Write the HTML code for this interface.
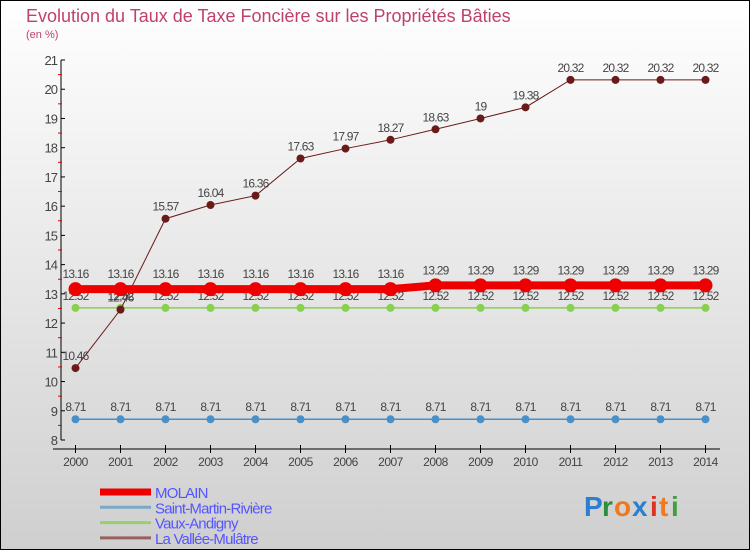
<!DOCTYPE html>
<html><head><meta charset="utf-8"><style>
body{margin:0;width:750px;height:550px;overflow:hidden;font-family:"Liberation Sans",sans-serif}
svg{display:block}
</style></head><body>
<svg id="chart" width="750" height="550" xmlns="http://www.w3.org/2000/svg">
<defs><linearGradient id="bg" x1="0" y1="0" x2="0" y2="1"><stop offset="0" stop-color="#ffffff"/><stop offset="1" stop-color="#cfcfcf"/></linearGradient></defs>
<rect x="0.5" y="0.5" width="749" height="549" fill="url(#bg)" stroke="#000" stroke-width="1"/>
<text x="26" y="22" font-size="18" fill="#c04070">Evolution du Taux de Taxe Foncière sur les Propriétés Bâties</text>
<text x="26" y="38" font-size="11" fill="#c04070">(en %)</text>
<g id="axes"></g><g id="series"></g><g id="legend"></g>
<g font-size="28" font-weight="bold">
<text x="584" y="516" fill="#2a7fd0">P</text><text x="602" y="516" fill="#2a9040">r</text><text x="614" y="516" fill="#f07820">o</text><text x="632" y="516" fill="#2a7fd0">x</text><text x="650" y="516" fill="#e03020">i</text><text x="659" y="516" fill="#f07820">t</text><text x="671" y="516" fill="#40a040">i</text>
</g>
</svg>
<script>
const years=[2000,2001,2002,2003,2004,2005,2006,2007,2008,2009,2010,2011,2012,2013,2014];
const molain=[13.16,13.16,13.16,13.16,13.16,13.16,13.16,13.16,13.29,13.29,13.29,13.29,13.29,13.29,13.29];
const saintMartin=[8.71,8.71,8.71,8.71,8.71,8.71,8.71,8.71,8.71,8.71,8.71,8.71,8.71,8.71,8.71];
const vaux=[12.52,12.52,12.52,12.52,12.52,12.52,12.52,12.52,12.52,12.52,12.52,12.52,12.52,12.52,12.52];
const vallee=[10.46,12.46,15.57,16.04,16.36,17.63,17.97,18.27,18.63,19,19.38,20.32,20.32,20.32,20.32];
const yTicks=[8,9,10,11,12,13,14,15,16,17,18,19,20,21];
const seriesNames=["MOLAIN","Saint-Martin-Rivière","Vaux-Andigny","La Vallée-Mulâtre"];
const NS="http://www.w3.org/2000/svg";
const x=i=>75.5+i*(705.5-75.5)/(years.length-1);
const y=v=>440-(v-8)*(440-60)/13;
function el(tag,attrs,parent,txt){const e=document.createElementNS(NS,tag);for(const k in attrs)e.setAttribute(k,attrs[k]);if(txt!==undefined)e.textContent=txt;parent.appendChild(e);return e;}
const ax=document.getElementById('axes');
let a=el('line',{x1:61,y1:60,x2:61,y2:440,stroke:'#000','stroke-width':1},ax);


a=el('line',{x1:53,y1:449,x2:720,y2:449,stroke:'#000','stroke-width':1},ax);


yTicks.forEach((t,i)=>{
 el('line',{x1:61,y1:y(t),x2:65,y2:y(t),stroke:'#000'},ax);
 const lb=el('text',{x:57,y:y(t)+5,'text-anchor':'end','font-size':13,fill:'#444','letter-spacing':'-1'},ax,String(t));
 
 
 if(i<yTicks.length-1) el('line',{x1:58,y1:y(t+0.5),x2:62,y2:y(t+0.5),stroke:'#e00000'},ax);
});
years.forEach((yr,i)=>{
 el('line',{x1:x(i),y1:445,x2:x(i),y2:453,stroke:'#000'},ax);
 const lb=el('text',{x:x(i),y:466,'text-anchor':'middle','font-size':12,fill:'#444','letter-spacing':'-0.5'},ax,String(yr));
 
 
});
const sg=document.getElementById('series');
function series(vals,color,w,r,name,dy){
 const g=el('g',{},sg);
 
 
 el('polyline',{points:vals.map((v,i)=>x(i)+','+y(v)).join(' '),fill:'none',stroke:color,'stroke-width':w},g);
 vals.forEach((v,i)=>{
  const c=el('circle',{cx:x(i),cy:y(v),r:r,fill:color},g);
  
  
  const t=el('text',{x:x(i),y:y(v)+dy,'text-anchor':'middle','font-size':12,fill:'#444','letter-spacing':'-0.8'},g,String(v));
  
  
 });
}
series(saintMartin,'#4a90c8',1.5,4,'series-saint-martin',-8);
series(vaux,'#88d050',1.5,4,'series-vaux-andigny',-8);
series(vallee,'#6b1a1a',1,4,'series-la-vallee',-8);
series(molain,'#ee0000',8,7,'series-molain',-11);
const lg=document.getElementById('legend');
const lc=['#ee0000','#7aa8c8','#98d070','#9a6060'],lw=[7,3,3,3];
seriesNames.forEach((n,i)=>{
 const yy=492+i*15.3;
 const g=el('g',{},lg);
 
 
 el('line',{x1:100,y1:yy,x2:151,y2:yy,stroke:lc[i],'stroke-width':lw[i]},g);
 el('text',{x:155,y:yy+6,'font-size':15,fill:'#5555ff','letter-spacing':'-0.8'},g,n);
});
</script>
</body></html>
